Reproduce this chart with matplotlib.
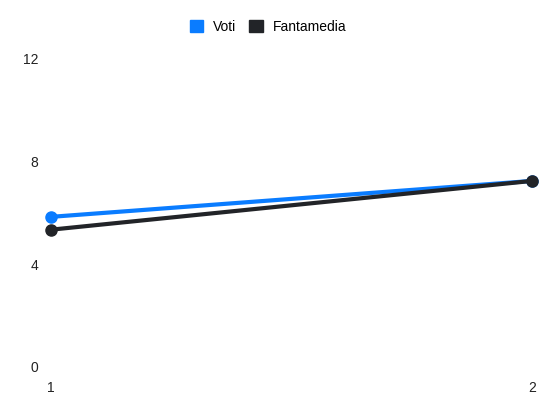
import matplotlib.pyplot as plt
from matplotlib.patches import Patch

plt.rcParams['font.family'] = ['Liberation Sans', 'DejaVu Sans']

giornate = [1, 2]
voti = [5.85, 7.25]
fantamedia = [5.35, 7.25]

blu = '#0a7cff'
nero = '#222428'

fig = plt.figure(figsize=(5.5, 4.12), dpi=100)
ax = fig.add_axes([51/550, 1-367/412, (532-51)/550, (367-59)/412])

ax.plot(giornate, voti, color=blu, lw=3, marker='o', ms=8, clip_on=False, zorder=3)
ax.plot(giornate, fantamedia, color=nero, lw=3, marker='o', ms=8, clip_on=False, zorder=4)

ax.set_xlim(1, 2)
ax.set_ylim(0, 12)
ax.set_xticks(giornate)
ax.set_yticks([0, 4, 8, 12])
for s in ax.spines.values():
    s.set_visible(False)
ax.tick_params(length=0, labelsize=10, colors='#222222')
ax.tick_params(axis='y', pad=9)
ax.tick_params(axis='x', pad=10)

handles = [Patch(color=blu, label='Voti'), Patch(color=nero, label='Fantamedia')]
fig.legend(handles=handles, loc='center', bbox_to_anchor=(0.487, 1-27/412), ncol=2,
           frameon=False, fontsize=10, handlelength=1.0, handleheight=1.0,
           handletextpad=0.7, columnspacing=0.9)

fig.savefig('out.png', dpi=100)
